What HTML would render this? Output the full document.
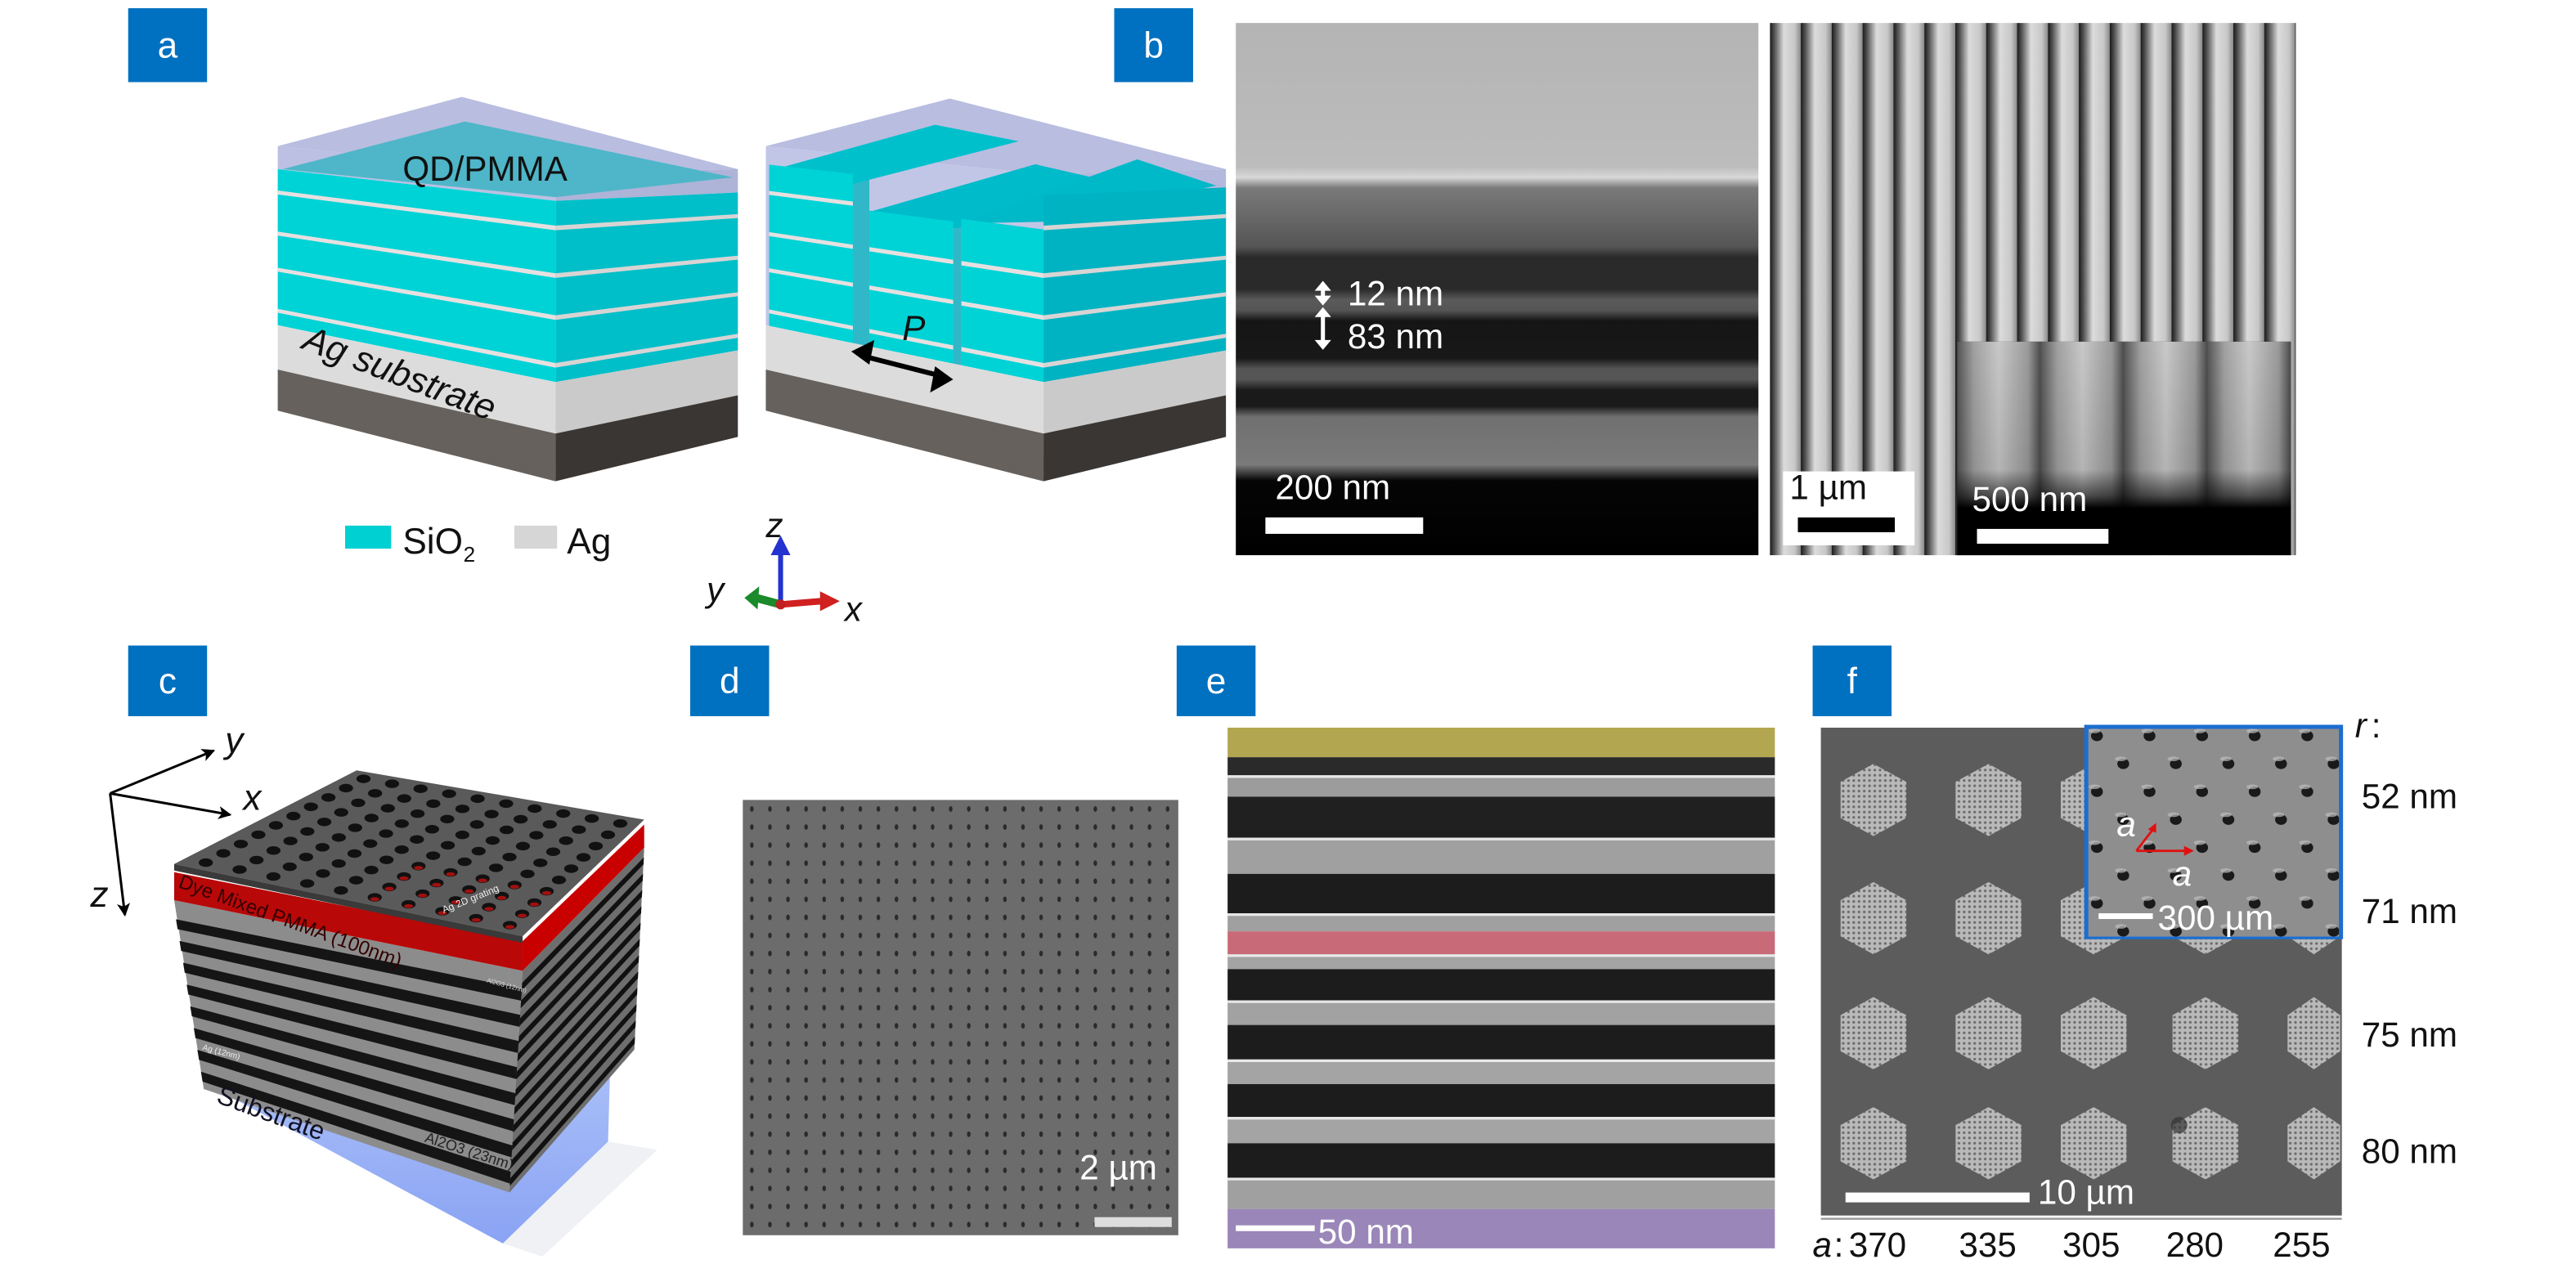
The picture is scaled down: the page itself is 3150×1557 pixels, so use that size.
<!DOCTYPE html>
<html><head><meta charset="utf-8">
<style>
html,body{margin:0;padding:0;background:#fff;}
svg{display:block;}
text{font-family:"Liberation Sans",Arial,sans-serif;}
</style></head>
<body>
<svg id="s" width="3150" height="1557" viewBox="0 0 1567.5 775" preserveAspectRatio="none" xmlns="http://www.w3.org/2000/svg">
<defs>
  <linearGradient id="b1" x1="0" y1="0" x2="0" y2="1">
    <stop offset="0" stop-color="#b4b4b4"/>
    <stop offset="0.27" stop-color="#bcbcbc"/>
    <stop offset="0.29" stop-color="#d8d8d8"/>
    <stop offset="0.31" stop-color="#7a7a7a"/>
    <stop offset="0.42" stop-color="#555"/>
    <stop offset="0.44" stop-color="#2a2a2a"/>
    <stop offset="0.5" stop-color="#2a2a2a"/>
    <stop offset="0.52" stop-color="#5a5a5a"/>
    <stop offset="0.54" stop-color="#555"/>
    <stop offset="0.56" stop-color="#151515"/>
    <stop offset="0.63" stop-color="#181818"/>
    <stop offset="0.65" stop-color="#555"/>
    <stop offset="0.67" stop-color="#555"/>
    <stop offset="0.69" stop-color="#1a1a1a"/>
    <stop offset="0.72" stop-color="#1a1a1a"/>
    <stop offset="0.74" stop-color="#707070"/>
    <stop offset="0.83" stop-color="#7a7a7a"/>
    <stop offset="0.86" stop-color="#050505"/>
    <stop offset="1" stop-color="#000"/>
  </linearGradient>
  <linearGradient id="strg" x1="0" y1="0" x2="1" y2="0">
    <stop offset="0" stop-color="#1a1a1a"/>
    <stop offset="0.15" stop-color="#555"/>
    <stop offset="0.45" stop-color="#dcdcdc"/>
    <stop offset="0.8" stop-color="#c8c8c8"/>
    <stop offset="1" stop-color="#8a8a8a"/>
  </linearGradient>
  <pattern id="str" x="1077" y="0" width="18.8" height="10" patternUnits="userSpaceOnUse">
    <rect width="18.8" height="10" fill="url(#strg)"/>
  </pattern>
  <linearGradient id="pil" x1="0" y1="0" x2="1" y2="0">
    <stop offset="0" stop-color="#555"/>
    <stop offset="0.2" stop-color="#a0a0a0"/>
    <stop offset="0.5" stop-color="#c8c8c8"/>
    <stop offset="0.85" stop-color="#9a9a9a"/>
    <stop offset="1" stop-color="#4a4a4a"/>
  </linearGradient>
  <pattern id="pilp" x="1191" y="0" width="50.75" height="10" patternUnits="userSpaceOnUse">
    <rect width="50.75" height="10" fill="url(#pil)"/>
  </pattern>
  <linearGradient id="pilfade" x1="0" y1="0" x2="0" y2="1">
    <stop offset="0" stop-color="#000" stop-opacity="0"/>
    <stop offset="0.6" stop-color="#000" stop-opacity="0.1"/>
    <stop offset="0.72" stop-color="#000" stop-opacity="0.6"/>
    <stop offset="0.78" stop-color="#000" stop-opacity="1"/>
    <stop offset="1" stop-color="#000" stop-opacity="1"/>
  </linearGradient>
  <pattern id="dotd" x="452" y="487" width="11" height="11" patternUnits="userSpaceOnUse">
    <rect width="11" height="11" fill="#6c6c6c"/>
    <ellipse cx="5.5" cy="5.5" rx="1.1" ry="1.7" fill="#2a2a2a"/>
  </pattern>
  <pattern id="hexp" width="3.2" height="3.2" patternUnits="userSpaceOnUse">
    <rect width="3.2" height="3.2" fill="#b9b9b9"/>
    <circle cx="1.6" cy="1.6" r="0.8" fill="#6a6a6a"/>
  </pattern>
  <linearGradient id="subg" x1="0" y1="0" x2="0" y2="1">
    <stop offset="0" stop-color="#a8bff8"/>
    <stop offset="1" stop-color="#7d99f2"/>
  </linearGradient>
  <marker id="ah" markerWidth="8" markerHeight="8" refX="7" refY="4" orient="auto" markerUnits="userSpaceOnUse">
    <path d="M0,0 L8,4 L0,8 L2,4 Z" fill="#000"/>
  </marker>
</defs>
<g id="g"></g>
</svg>
<script>
var g=document.getElementById('g');var NS='http://www.w3.org/2000/svg';
function add(tag,a,t){var e=document.createElementNS(NS,tag);for(var k in a)e.setAttribute(k,a[k]);if(t!==undefined)e.textContent=t;g.appendChild(e);return e;}
function poly(p,f,extra){var a={points:p.map(function(q){return q[0].toFixed(2)+','+q[1].toFixed(2)}).join(' '),fill:f};for(var k in extra)a[k]=extra[k];return add('polygon',a);}
function txt(x,y,s,t,extra){var a={x:x,y:y,'font-size':s};for(var k in extra)a[k]=extra[k];return add('text',a,t);}

[['a',78,5,50],['b',678,5,50],['c',78,393,436],['d',420,393,436],['e',716,393,436],['f',1103,393,436]].forEach(function(l){
  add('rect',{x:l[1],y:l[2],width:48,height:l[3]-l[2],fill:'#0070c0'});
  txt(l[1]+24,(l[2]+l[3])/2+7.5,22,l[0],{fill:'#fff','text-anchor':'middle'});
});

function mk(ox){
  var L=169+ox,F=338+ox,R=449+ox;
  function dF(Y){var t=(Y-89)/161;return 17+26*t;}
  function dR(Y){var t=(Y-89)/161;return 3+24*t;}
  function y(x,Y){if(x<=F)return Y+(x-L)/(F-L)*dF(Y);return Y+dF(Y)-(x-F)/(R-F)*dR(Y);}
  function band(xa,xb,Y1,Y2,f){poly([[xa,y(xa,Y1)],[xb,y(xb,Y1)],[xb,y(xb,Y2)],[xa,y(xa,Y2)]],f);}
  return {L:L,F:F,R:R,y:y,band:band};
}
(function(){
  var b=mk(0);
  poly([[169,89],[281,59],[449,103],[338,106]],'#b9bde0');
  b.band(169,338,89,103,'#bcc0e2');b.band(338,449,89,103,'#aeb3d8');
  poly([[172,103],[283,74],[446,108],[338,120]],'#4eb6c8');
  b.band(169,338,103,198,'#00d3d6');b.band(338,449,103,198,'#00bfc8');
  [116,141,163,188].forEach(function(Y){b.band(169,338,Y,Y+2.4,'#e6e0e0');b.band(338,449,Y,Y+2.4,'#d8d4d4');});
  b.band(169,338,198,225,'#dcdcdc');b.band(338,449,198,225,'#cacaca');
  b.band(169,338,225,250,'#66615c');b.band(338,449,225,250,'#3a3633');
  txt(245,110,21,'QD/PMMA',{fill:'#111'});
  txt(183,212,22,'Ag substrate',{fill:'#111','font-style':'italic',transform:'rotate(21 183 212)'});
})();
(function(){
  var b=mk(297);
  poly([[466,89],[578,60],[746,103],[635,106]],'#b9bde0');
  b.band(466,635,89,198,'#c2c6e6');b.band(635,746,89,198,'#b3b8dc');
  b.band(519,529,100,198,'#30b8c8');b.band(580,585,118,198,'#30b8c8');
  poly([[468,104],[519,112],[620,86],[569,76]],'#00c0cc');
  poly([[529,129],[582,139],[682,112],[630,100]],'#00bccb');
  poly([[585,136],[635,135],[740,113],[692,97]],'#00b9c8');
  b.band(468,519,100,198,'#00d3d6');
  b.band(529,580,120,198,'#00d3d6');
  b.band(585,635,118,198,'#00d3d6');
  b.band(635,746,100,198,'#00b3c2');
  [116,141,163,188].forEach(function(Y){
    [[468,519],[529,580],[585,635]].forEach(function(r){if(Y>((r[0]==468)?100:120))b.band(r[0],r[1],Y,Y+2.4,'#e6e0e0');});
    b.band(635,746,Y,Y+2.4,'#d8d4d4');});
  b.band(466,635,198,225,'#dcdcdc');b.band(635,746,198,225,'#cacaca');
  b.band(466,635,225,250,'#66615c');b.band(635,746,225,250,'#3a3633');
  add('line',{x1:526,y1:217,x2:573,y2:229,stroke:'#000','stroke-width':3});
  poly([[518,214],[532,207],[529,222]],'#000');
  poly([[580,231],[566,239],[569,223]],'#000');
  txt(549,207,21,'P',{fill:'#111','font-style':'italic'});
})();
add('rect',{x:210,y:320,width:28,height:14,fill:'#00d0d2'});
txt(245,337,22,'SiO',{fill:'#111'});txt(282,342,13,'2',{fill:'#111'});
add('rect',{x:313,y:320,width:26,height:14,fill:'#d6d6d6'});
txt(345,337,22,'Ag',{fill:'#111'});
add('line',{x1:475,y1:368,x2:475,y2:336,stroke:'#2432d0','stroke-width':3});
poly([[469,338],[481,338],[475,326]],'#2432d0');
add('line',{x1:475,y1:368,x2:500,y2:366,stroke:'#d02020','stroke-width':4});
poly([[499,360],[511,366],[499,372]],'#d02020');
add('line',{x1:475,y1:368,x2:460,y2:364,stroke:'#1a8a2a','stroke-width':5});
poly([[462,357],[453,364],[461,371]],'#1a8a2a');
add('circle',{cx:475,cy:368,r:3,fill:'#c02020'});
txt(466,327,21,'z',{fill:'#111','font-style':'italic'});
txt(430,366,21,'y',{fill:'#111','font-style':'italic'});
txt(514,378,21,'x',{fill:'#111','font-style':'italic'});

add('rect',{x:752,y:14,width:318,height:324,fill:'url(#b1)'});
add('rect',{x:1077,y:14,width:320,height:324,fill:'url(#str)'});
add('rect',{x:1191,y:208,width:203,height:130,fill:'#000'});
add('rect',{x:1191,y:208,width:203,height:130,fill:'url(#pilp)'});
add('rect',{x:1191,y:208,width:203,height:130,fill:'url(#pilfade)'});
function darr(x,y1,y2){add('line',{x1:x,y1:y1+4,x2:x,y2:y2-4,stroke:'#fff','stroke-width':2.5});
  poly([[x-5,y1+6],[x+5,y1+6],[x,y1]],'#fff');poly([[x-5,y2-6],[x+5,y2-6],[x,y2]],'#fff');}
darr(805,171,186);darr(805,187,213);
txt(820,186,21,'12 nm',{fill:'#fff'});txt(820,212,21,'83 nm',{fill:'#fff'});
txt(776,304,21,'200 nm',{fill:'#fff'});
add('rect',{x:770,y:315,width:96,height:10,fill:'#fff'});
add('rect',{x:1085,y:287,width:80,height:45,fill:'#fff'});
txt(1089,304,21,'1 µm',{fill:'#111'});
add('rect',{x:1094,y:315,width:59,height:9,fill:'#000'});
txt(1200,311,21,'500 nm',{fill:'#fff'});
add('rect',{x:1203,y:322,width:80,height:9,fill:'#fff'});

(function(){
  poly([[124,659],[306,757],[370,695],[372,625]],'url(#subg)',{opacity:0.9});
  poly([[306,757],[330,765],[400,700],[370,695]],'#e6e8ee',{opacity:0.6});
  var L0=[106,526],F0=[318,570],R0=[392,499],B0=[217,469];
  var Lb=[124,663],Fb=[310,726],Rb=[386,639];
  poly([[106,548],[318,591],Fb,Lb],'#8c8c8c');
  poly([[318,591],[392,516],Rb,Fb],'#6e6e6e');
  function lp(s){return [106+(124-106)*s,553+(663-553)*s];}
  function fp(s){return [318+(310-318)*s,594+(726-594)*s];}
  function rp(s){return [392+(386-392)*s,518+(639-518)*s];}
  for(var i=0;i<8;i++){
    var s=(i+0.5)/8.3, s2=s+0.055;
    poly([lp(s),fp(s),fp(s2),lp(s2)],'#151515');
  }
  for(var j=0;j<12;j++){
    var s3=(j+0.4)/12.2, s4=s3+0.035;
    poly([fp(s3),rp(s3),rp(s4),fp(s4)],'#111');
  }
  poly([[106,531],[318,573],[318,591],[106,548]],'#b80808');
  poly([[318,573],[392,502],[392,516],[318,591]],'#c80000');
  poly([L0,F0,R0,B0],'#5a5a5a');
  poly([[106,526],[318,570],[318,574],[106,530]],'#3a3a3a');
  for(var u=0;u<10;u++)for(var v=0;v<10;v++){
    var uu=0.06+u*0.098, vv=0.06+v*0.098;
    var x=(1-uu)*(1-vv)*L0[0]+uu*(1-vv)*F0[0]+uu*vv*R0[0]+(1-uu)*vv*B0[0];
    var y=(1-uu)*(1-vv)*L0[1]+uu*(1-vv)*F0[1]+uu*vv*R0[1]+(1-uu)*vv*B0[1];
    add('ellipse',{cx:x,cy:y,rx:4.3,ry:2.6,fill:'#111'});
    if(uu>0.5&&vv<0.4)add('ellipse',{cx:x,cy:y+1.1,rx:2.8,ry:1.2,fill:'#a01010'});
  }
  txt(108,540,12,'Dye Mixed PMMA (100nm)',{fill:'#300','transform':'rotate(20 108 540)'});
  txt(270,556,6,'Ag 2D grating',{fill:'#eee','transform':'rotate(-22 270 556)'});
  txt(296,598,4,'Al2O3 (12nm)',{fill:'#ddd','transform':'rotate(15 296 598)'});
  txt(123,639,5,'Ag (12nm)',{fill:'#eee','transform':'rotate(15 123 639)'});
  txt(258,695,9,'Al2O3 (23nm)',{fill:'#222','transform':'rotate(18 258 695)'});
  txt(131,671,16,'Substrate',{fill:'#112','transform':'rotate(20 131 671)'});
  add('line',{x1:67,y1:483,x2:130,y2:457,stroke:'#000','stroke-width':1.5,'marker-end':'url(#ah)'});
  add('line',{x1:67,y1:483,x2:140,y2:496,stroke:'#000','stroke-width':1.5,'marker-end':'url(#ah)'});
  add('line',{x1:67,y1:483,x2:76,y2:557,stroke:'#000','stroke-width':1.5,'marker-end':'url(#ah)'});
  txt(137,458,22,'y',{fill:'#111','font-style':'italic'});
  txt(148,493,22,'x',{fill:'#111','font-style':'italic'});
  txt(55,552,22,'z',{fill:'#111','font-style':'italic'});
})();

add('rect',{x:452,y:487,width:265,height:265,fill:'url(#dotd)'});
txt(657,718,21,'2 µm',{fill:'#fff'});
add('rect',{x:666,y:741,width:47,height:6,fill:'#ddd'});

(function(){
  var bands=[[443,461,'#b3a650'],[461,472,'#2a2a2a'],[472,485,'#9c9c9c'],[485,510,'#202020'],[510,532,'#a0a0a0'],[532,556,'#1c1c1c'],[556,567,'#a0a0a0'],[567,581,'#c86a78'],[581,590,'#a4a4a4'],[590,609,'#1c1c1c'],[609,624,'#a2a2a2'],[624,645,'#1c1c1c'],[645,660,'#a4a4a4'],[660,680,'#1c1c1c'],[680,696,'#a4a4a4'],[696,717,'#1c1c1c'],[717,736,'#a0a0a0'],[736,760,'#9a86b8']];
  bands.forEach(function(b){add('rect',{x:747,y:b[0],width:333,height:b[1]-b[0],fill:b[2]});});
  [472,510,556,581,609,645,680,717].forEach(function(y){add('rect',{x:747,y:y,width:333,height:1.6,fill:'#e8e8e8'});});
  add('rect',{x:752,y:746,width:48,height:3.5,fill:'#fff'});
  txt(802,757,21,'50 nm',{fill:'#fff'});
})();

(function(){
  add('rect',{x:1108,y:443,width:317,height:297,fill:'#5c5c5c'});
  add('line',{x1:1108,y1:742,x2:1425,y2:742,stroke:'#999','stroke-width':1.2});
  var cols=[1140,1210,1274,1342,1408],rows=[487,559,629,696];
  rows.forEach(function(cy,ri){cols.forEach(function(cx,ci){
    var w=20,h=22;
    if(ci==4)w=16;
    poly([[cx,cy-h],[cx+w,cy-h/2],[cx+w,cy+h/2],[cx,cy+h],[cx-w,cy+h/2],[cx-w,cy-h/2]],'url(#hexp)');
  });});
  add('circle',{cx:1326,cy:685,r:5,fill:'#333',opacity:0.7});
  add('rect',{x:1269,y:442,width:156,height:129,fill:'#8e8e8e',stroke:'#1c6ed0','stroke-width':1.5});
  for(var r=0;r<8;r++){for(var c=0;c<6;c++){
    var x=1276+c*32+(r%2?16:0), y=448+r*17;
    if(x<1424&&y<570){add('ellipse',{cx:x,cy:y,rx:3.6,ry:3.2,fill:'#1a1a1a'});
      add('ellipse',{cx:x-1.5,cy:y-3,rx:3.5,ry:1.4,fill:'#bdbdbd',opacity:0.7});}
  }}
  add('rect',{x:1270,y:443,width:154,height:128,fill:'none',stroke:'#1c6ed0','stroke-width':1.5});
  add('line',{x1:1300,y1:518,x2:1330,y2:518,stroke:'#e01010','stroke-width':1.4});
  poly([[1329,515],[1335,518],[1329,521]],'#e01010');
  add('line',{x1:1300,y1:518,x2:1310,y2:505,stroke:'#e01010','stroke-width':1.4});
  poly([[1307,505],[1312,501],[1312,507]],'#e01010');
  txt(1288,509,21,'a',{fill:'#fff','font-style':'italic'});
  txt(1322,539,21,'a',{fill:'#fff','font-style':'italic'});
  add('rect',{x:1277,y:556,width:33,height:3.5,fill:'#fff'});
  txt(1313,566,21,'300 µm',{fill:'#fff'});
  add('rect',{x:1123,y:726,width:112,height:6,fill:'#fff'});
  txt(1240,733,21,'10 µm',{fill:'#fff'});
  txt(1433,449,21,'r',{fill:'#111','font-style':'italic'});txt(1443,449,21,':',{fill:'#111'});
  [['52 nm',492],['71 nm',562],['75 nm',637],['80 nm',708]].forEach(function(l){txt(1437,l[1],21,l[0],{fill:'#111'});});
  txt(1103,765,21,'a',{fill:'#111','font-style':'italic'});txt(1116,765,21,':',{fill:'#111'});
  [['370',1125],['335',1192],['305',1255],['280',1318],['255',1383]].forEach(function(l){txt(l[1],765,21,l[0],{fill:'#111'});});
})();
</script>
</body></html>
